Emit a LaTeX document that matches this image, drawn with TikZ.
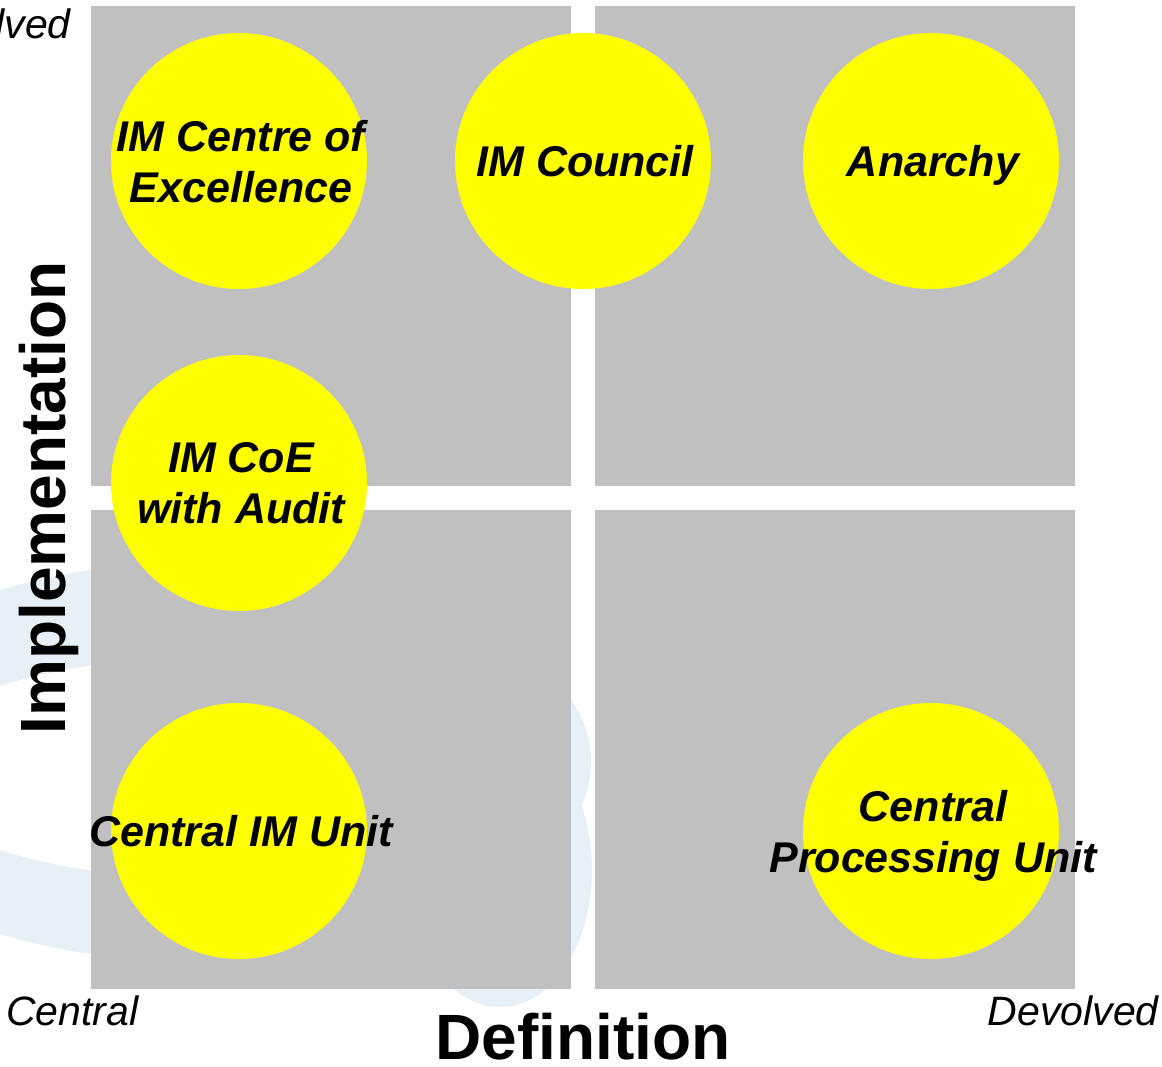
\documentclass[tikz,border=0pt]{standalone}
\usepackage{fontspec}
\setmainfont{Liberation Sans}
\definecolor{quadgrey}{RGB}{192,192,192}
\definecolor{bubyellow}{RGB}{255,255,0}
\definecolor{wmblue}{RGB}{232,240,247}
\begin{document}
\begin{tikzpicture}[x=1pt,y=-1pt,
  quad/.style={fill=quadgrey,draw=none},
  bubble/.style={circle,fill=bubyellow,draw=none,minimum size=256pt,inner sep=0pt},
  bubtext/.style={font=\fontsize{43}{51}\selectfont\bfseries\itshape,align=center,inner sep=0pt,text depth=0pt,xshift=2pt},
  axislabel/.style={font=\fontsize{64}{70}\selectfont\bfseries,inner sep=0pt},
  endlabel/.style={font=\fontsize{41}{48}\selectfont\itshape,inner sep=0pt}]
\clip (0,0) rectangle (1162,1066);
\fill[white] (0,0) rectangle (1162,1066);
% faint watermark
\fill[wmblue,even odd rule] (200,762) ellipse [x radius=391pt, y radius=200pt]
                            (200,768) ellipse [x radius=300pt, y radius=110pt];
\draw[wmblue,line width=24pt] (500,870) ellipse [x radius=80pt, y radius=125pt];
% quadrants
\fill[quad] (91,6) rectangle (571,486);
\fill[quad] (595,6) rectangle (1075,486);
\fill[quad] (91,510) rectangle (571,989);
\fill[quad] (595,510) rectangle (1075,989);
% bubbles
\node[bubble] (coe) at (239,161) {};
\node[bubble] (council) at (583,161) {};
\node[bubble] (anarchy) at (931,161) {};
\node[bubble] (audit) at (239,483) {};
\node[bubble] (imunit) at (239,831) {};
\node[bubble] (cpu) at (931,831) {};
\node[bubtext] (coet) at (coe) {IM Centre of\\Excellence};
\node[bubtext] (councilt) at (council) {IM Council};
\node[bubtext] (anarchyt) at (anarchy) {Anarchy};
\node[bubtext] (auditt) at (audit) {IM CoE\\with Audit};
\node[bubtext] (imunitt) at (imunit) {Central IM Unit};
\node[bubtext] (cput) at (cpu) {Central\\Processing Unit};
% axis labels
\node[axislabel,rotate=90,anchor=base] (impl) at (65,498) {Implementation};
\node[axislabel,anchor=base] (defn) at (583,1059) {Definition};
\node[endlabel,anchor=base west] (central) at (6,1025) {Central};
\node[endlabel,anchor=base east] (devolvedx) at (1159,1025) {Devolved};
\node[endlabel,anchor=base east] (devolvedy) at (71,38) {Devolved};
\end{tikzpicture}
\end{document}
